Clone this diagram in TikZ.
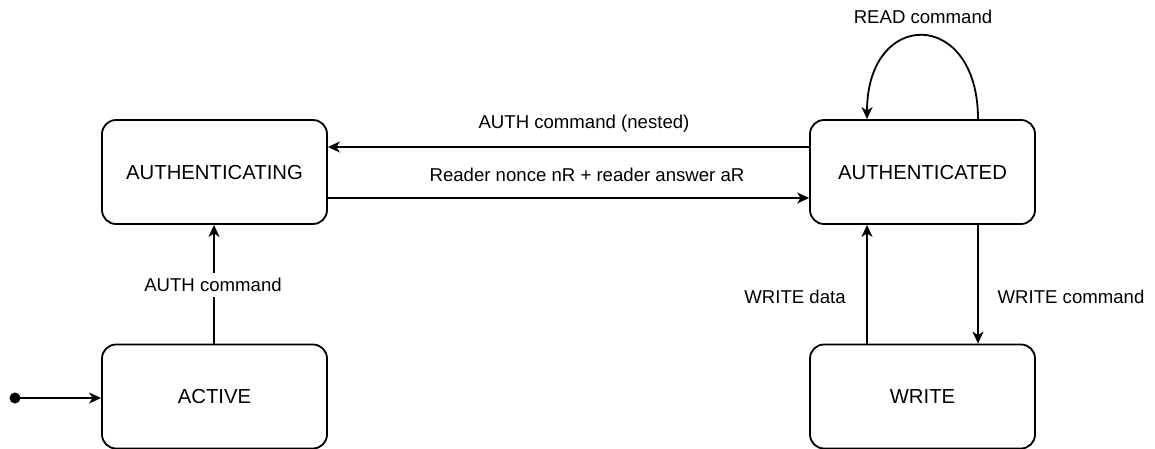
\documentclass[tikz,border=0pt]{standalone}
\usepackage{fontspec}
\setmainfont{Liberation Sans}
\usetikzlibrary{arrows.meta}
\begin{document}
\begin{tikzpicture}[x=1pt,y=-1pt,
  state/.style={draw, line width=1.8pt, rounded corners=14pt, minimum width=225pt, minimum height=104pt, inner sep=0pt, text height=14.5pt, text depth=0pt, font=\fontsize{20.3pt}{24pt}\selectfont},
  lbl/.style={font=\fontsize{18.6pt}{22pt}\selectfont, inner sep=1pt, text height=13.3pt, text depth=0pt},
  arr/.style={line width=1.8pt, -{Stealth[length=12pt,width=11pt,inset=3.5pt]}}
]
\useasboundingbox (0,0) rectangle (1155,448);
\node[state] (authing) at (214.5,172) {AUTHENTICATING};
\node[state] (authed) at (922.5,172) {AUTHENTICATED};
\node[state] (active) at (214.5,396.5) {ACTIVE};
\node[state] (write) at (922.5,396.5) {WRITE};
\coordinate (start) at (15,398);
\fill (start) circle (5.5pt);
\draw[arr] (start) -- (active.west |- start);
\draw[arr] (active.north -| 214,0) -- (authing.south -| 214,0);
\node[lbl, fill=white, inner ysep=5pt] (lauth) at (213,285) {AUTH command};
\draw[arr] (authed.west |- 0,147) -- (authing.east |- 0,147);
\node[lbl] (lnested) at (584,122) {AUTH command (nested)};
\draw[arr] (authing.east |- 0,198) -- (authed.west |- 0,198);
\node[lbl] (lreader) at (587,175) {Reader nonce nR + reader answer aR};
\draw[arr] (write.north -| 867,0) -- (authed.south -| 867,0);
\node[lbl] (lwd) at (795,297) {WRITE data};
\draw[arr] (authed.south -| 978,0) -- (write.north -| 978,0);
\node[lbl] (lwc) at (1071,297) {WRITE command};
\draw[arr] (authed.north -| 978,0) .. controls (978,8) and (867,8) .. (authed.north -| 867,0);
\node[lbl] (lread) at (923,17) {READ command};
\end{tikzpicture}
\end{document}
